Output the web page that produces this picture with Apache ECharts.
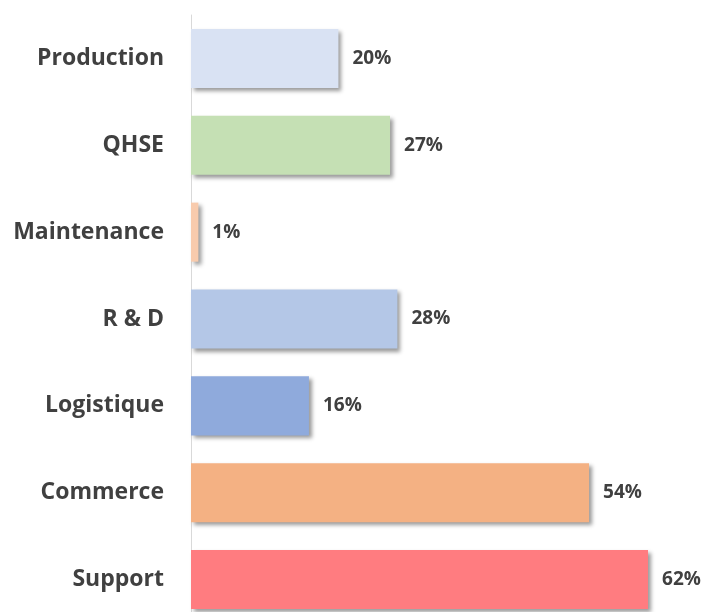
<!DOCTYPE html>
<html>
<head>
<meta charset="utf-8">
<script src="https://cdn.jsdelivr.net/npm/echarts@6/dist/echarts.min.js"></script>
<style>
html, body { margin: 0; padding: 0; background: #fff; }
#Chart { width: 709px; height: 612px; }
</style>
</head>
<body>
<div id="Chart"></div>
<script>
var categories = ['Production', 'QHSE', 'Maintenance', 'R & D', 'Logistique', 'Commerce', 'Support'];
var values = [20, 27, 1, 28, 16, 54, 62];
var barColors = ['#D9E2F3', '#C5E0B4', '#F8CBAD', '#B4C7E7', '#8FAADC', '#F4B183', '#FF7C80'];

var Chart = echarts.init(document.getElementById('Chart'));

var ChartOption = {
    animation: false,
    grid: {
        left: 191,
        top: 15,
        width: 516,
        height: 608,
        outerBoundsMode: 'none',
        containLabel: false
    },
    xAxis: {
        type: 'value',
        min: 0,
        max: 70,
        show: false
    },
    yAxis: {
        type: 'category',
        inverse: true,
        data: categories,
        axisLine: { show: true, lineStyle: { color: '#D9D9D9', width: 1 } },
        axisTick: { show: false },
        axisLabel: {
            margin: 27,
            color: '#404040',
            fontFamily: 'Open Sans',
            fontWeight: 'bold',
            fontSize: 23
        }
    },
    series: [{
        type: 'bar',
        barWidth: '68%',
        data: values.map(function (v, i) {
            return { value: v, itemStyle: { color: barColors[i] } };
        }),
        itemStyle: {
            shadowColor: 'rgba(0,0,0,0.4)',
            shadowBlur: 4,
            shadowOffsetX: 3,
            shadowOffsetY: 3
        },
        label: {
            show: true,
            position: 'right',
            distance: 14,
            formatter: '{c}%',
            color: '#404040',
            fontFamily: 'Open Sans',
            fontWeight: 'bold',
            fontSize: 19
        }
    }]
};

Chart.setOption(ChartOption);
window.addEventListener("resize", function () {
    Chart.resize();
});
</script>
</body>
</html>
